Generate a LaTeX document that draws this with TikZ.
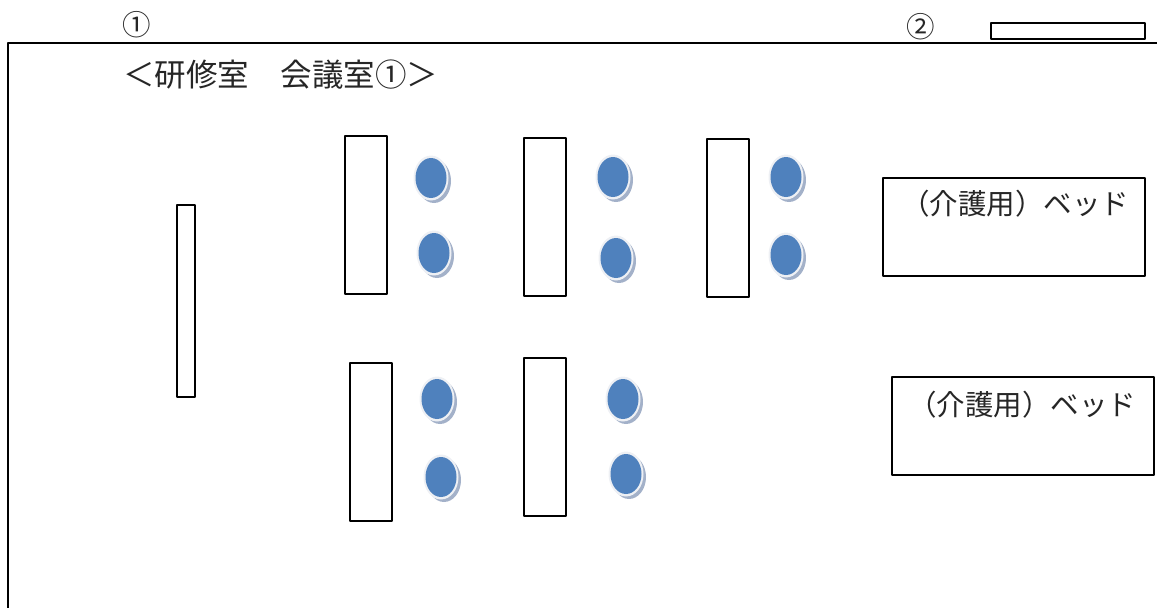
\documentclass[tikz,border=0pt]{standalone}
\usepackage{fontspec}
\newfontfamily\cjk{Noto Sans CJK JP}[Scale=1]
\begin{document}
\begin{tikzpicture}[x=1pt, y=-1pt, line join=round, font=\cjk,
    furniture/.style={draw=black, line width=1.6pt, fill=white},
    label/.style={inner sep=0pt, anchor=west, font=\cjk\fontsize{28.5}{31}\selectfont, text=black!85}]
            \definecolor{seatblue}{HTML}{4F81BD}
            \definecolor{seatshadow}{HTML}{A3B1C9}
            \definecolor{seatrim}{HTML}{EEF0F4}
            \useasboundingbox (0,0) rectangle (1157,608);
            % room walls
            \draw[line width=1.6pt] (1157,43) -- (8,43) -- (8,608);
            % labels
            \node[label] (markA) at (122,25) {①};
            \node[label] (markB) at (906,27) {②};
            \node[label, font=\cjk\fontsize{31.5}{34}\selectfont] (title) at (123,75) {＜研修室　会議室①＞};
            % whiteboard and door
            \draw[furniture] (177,205) rectangle (195,397);
            \draw[furniture] (991,23) rectangle (1145,39);
            % desks
            \foreach \x/\y in {345/136,524/138,707/139,350/363,524/358}
                \draw[furniture] (\x,\y) rectangle ++(42,158);
            % seats
            \foreach \x/\y in {431/178,434/253,613/177,616/258,786/177,786/255,437/399,441/477,623/399,626/474}{
                \fill[seatshadow] (\x+3,\y+3) ellipse (17 and 22);
                \fill[seatrim] (\x,\y) ellipse (17.5 and 22.5);
                \fill[seatblue] (\x,\y) ellipse (15.5 and 20);
            }
            % beds
            \draw[furniture] (883,178) rectangle (1145,276);
            \draw[furniture] (892,377) rectangle (1154,475);
            \node[label] (bedA) at (901,204) {（介護用）ベッド};
            \node[label] (bedB) at (908,405) {（介護用）ベッド};
        \end{tikzpicture}
\end{document}
